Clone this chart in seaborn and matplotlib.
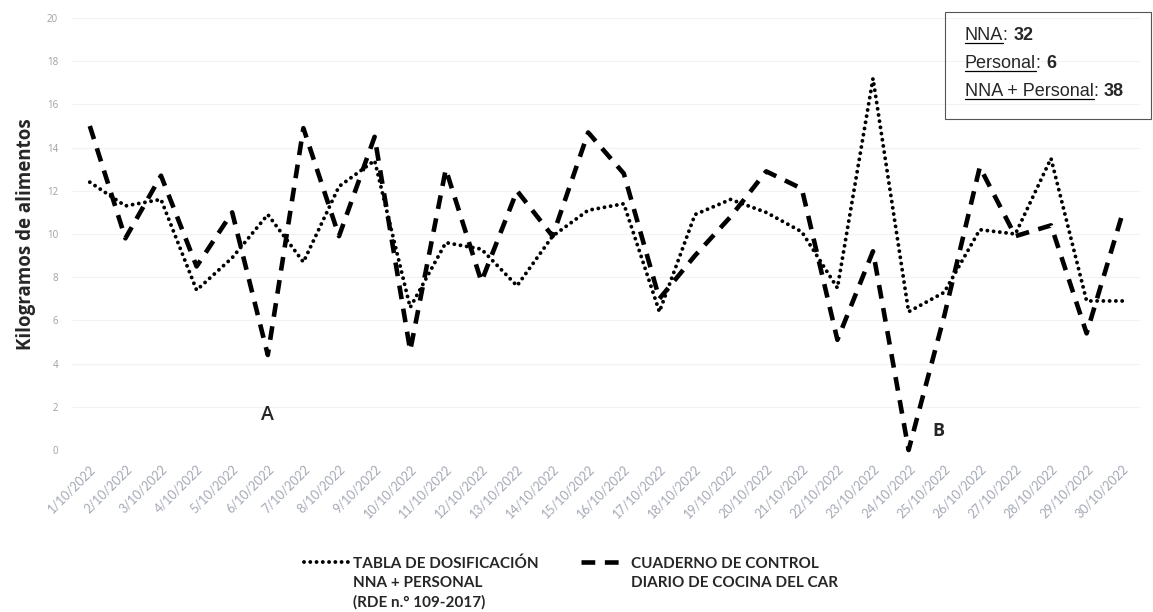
import numpy as np
import pandas as pd
import matplotlib
matplotlib.use("Agg")
import matplotlib.pyplot as plt
from matplotlib.lines import Line2D
from matplotlib.patches import Rectangle
import seaborn as sns

# data
fechas = ["%d/10/2022" % d for d in range(1, 31)]
tabla = [12.4, 11.3, 11.6, 7.4, 8.9, 10.9, 8.7, 12.2, 13.4, 6.6,
         9.6, 9.3, 7.6, 9.9, 11.1, 11.4, 6.4, 10.9, 11.6, 11.0,
         10.1, 7.5, 17.2, 6.4, 7.3, 10.2, 10.0, 13.5, 6.9, 6.9]
cuaderno = [15.0, 9.8, 12.7, 8.5, 11.0, 4.4, 14.9, 9.9, 14.5, 4.6,
            13.0, 7.8, 12.0, 9.9, 14.7, 12.8, 7.0, 9.0, 10.8, 12.9,
            12.1, 5.1, 9.2, 0.0, 6.2, 13.1, 9.9, 10.4, 5.4, 10.9]
lbl_tabla = "TABLA DE DOSIFICACIÓN\nNNA + PERSONAL\n(RDE n.° 109-2017)"
lbl_cuaderno = "CUADERNO DE CONTROL\nDIARIO DE COCINA DEL CAR"

df = pd.DataFrame({"idx": np.arange(len(fechas)), "fecha": fechas,
                   "tabla": tabla, "cuaderno": cuaderno})

sns.set_style("white")
plt.rcParams["font.family"] = ["Open Sans", "DejaVu Sans"]

dotted = dict(color="black", lw=2.8, linestyle=(0, (0.01, 1.6)),
              dash_capstyle="round")
dashed = dict(color="black", lw=3.3, linestyle=(0, (3.0, 2.1)),
              dash_capstyle="butt")

W, H = 1153, 612
fig = plt.figure(figsize=(W / 100, H / 100), dpi=100)
ax = fig.add_axes([72 / W, 1 - 450 / H, (1140 - 72) / W, (450 - 18) / H])

sns.lineplot(data=df, x="idx", y="tabla", ax=ax, clip_on=False, **dotted)
sns.lineplot(data=df, x="idx", y="cuaderno", ax=ax, clip_on=False, **dashed)

ax.set_xlim(-0.5, len(fechas) - 0.5)
ax.set_ylim(0, 20)
ax.set_yticks(range(0, 21, 2))
ax.set_xticks(df["idx"])
ax.set_xticklabels(fechas, rotation=45, ha="right", rotation_mode="anchor",
                   family=["Lato", "DejaVu Sans"])
ax.tick_params(axis="x", labelsize=9, labelcolor="#a3a8b4", length=0, pad=9)
ax.tick_params(axis="y", labelsize=7, labelcolor="#a0a0a0", length=0, pad=10)
ax.grid(axis="y", color="#f2f2f2", lw=0.8)
for s in ax.spines.values():
    s.set_visible(False)
ax.set_xlabel("")
ax.set_ylabel("Kilogramos de alimentos", fontsize=13.5, fontweight="bold",
              labelpad=8)

ax.text(5, 1.6, "A", fontsize=14, fontweight="semibold", ha="center", va="center")
ax.text(23.85, 0.9, "B", fontsize=13, fontweight="bold", ha="center", va="center")

# legend below the plot
handles = [Line2D([], [], **dotted), Line2D([], [], **dashed)]
leg = fig.legend(handles, [lbl_tabla, lbl_cuaderno], loc="upper center",
                 bbox_to_anchor=(0.495, 1 - 543 / H), ncol=2, frameon=False,
                 handlelength=2.9, columnspacing=2.8, handletextpad=0.33,
                 prop={"family": ["Lato", "DejaVu Sans"], "weight": "bold", "size": 11})
for t in leg.get_texts():
    t.set_linespacing(1.45)
leg._legend_handle_box.align = "top"
for col in leg._legend_handle_box.get_children():
    for item in col.get_children():
        item.align = "top"

# box with totals (top right)
fig.patches.append(Rectangle((945 / W, 1 - 119 / H), (1151 - 945) / W, (119 - 12) / H,
                             transform=fig.transFigure, fill=False,
                             edgecolor="#555555", lw=0.8))
box_font = ["Liberation Sans Narrow", "Liberation Sans", "DejaVu Sans"]
rows = [[("NNA", "normal", True), (": ", "normal", False), ("32", "bold", False)],
        [("Personal", "normal", True), (": ", "normal", False), ("6", "bold", False)],
        [("NNA + Personal", "normal", True), (": ", "normal", False), ("38", "bold", False)]]
fig.canvas.draw()
rend = fig.canvas.get_renderer()
for i, row in enumerate(rows):
    x = 965
    ybase = 40 + i * 28
    for txt, wt, und in row:
        t = fig.text(x / W, 1 - ybase / H, txt, fontsize=13, fontweight=wt,
                     family=box_font, va="baseline", ha="left")
        bb = t.get_window_extent(renderer=rend)
        if und:
            fig.add_artist(Line2D([x / W, (x + bb.width) / W],
                                  [1 - (ybase + 2.5) / H] * 2,
                                  transform=fig.transFigure, color="black", lw=0.9))
        x += bb.width

fig.savefig("out.png", dpi=100)
